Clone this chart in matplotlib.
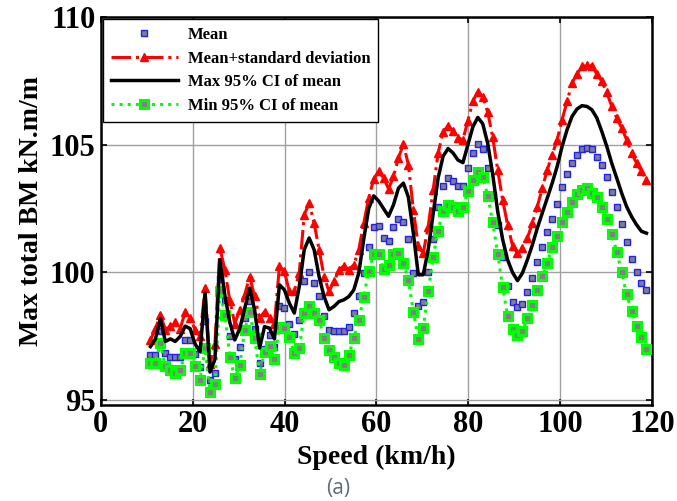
import numpy as np
import matplotlib
matplotlib.use('Agg')
import matplotlib.pyplot as plt

# speed grid: 3 .. 33 m/s in 0.3 m/s steps, shown in km/h
speed_ms = np.arange(30, 331, 3) / 10.0
speed = speed_ms * 3.6

mean_bm = [96.78, 96.78, 97.7, 96.85, 96.7, 96.7, 96.7, 97.35, 97.36, 96.8,
           96.3, 98.1, 95.8, 96.06, 99.75, 98.93, 97.53, 96.6, 97.08, 98.2,
           98.88, 97.78, 96.45, 97.0, 97.55, 97.1, 98.7, 98.6, 98.0, 97.6,
           98.15, 99.65, 100.0, 99.58, 99.06, 98.28, 97.76, 97.69, 97.69, 97.69,
           97.88, 98.4, 99.06, 99.98, 101.0, 101.77, 101.83, 101.35, 101.22, 101.78,
           102.1, 101.96, 101.3, 99.98, 98.67, 98.86, 100.0, 101.3, 102.58, 103.38,
           103.7, 103.6, 103.4, 103.37, 104.1, 104.69, 105.02, 104.83, 104.1, 103.05,
           101.87, 100.6, 99.47, 98.84, 98.66, 98.77, 99.23, 99.8, 100.4, 101.0,
           101.57, 102.09, 102.68, 103.33, 103.85, 104.28, 104.6, 104.83, 104.87, 104.83,
           104.54, 104.22, 103.72, 103.17, 102.58, 101.9, 101.18, 100.52, 100.0, 99.6,
           99.3]

mean_plus_sd = [97.36, 97.8, 98.34, 97.76, 97.9, 98.08, 97.8, 98.47, 98.21, 97.76,
                97.5, 99.4, 96.4, 97.2, 100.96, 100.1, 98.9, 98.0, 98.54, 99.13,
                99.84, 99.06, 98.2, 98.47, 98.2, 98.0, 100.24, 100.04, 99.26, 99.26,
                99.98, 102.26, 102.72, 101.93, 100.89, 99.84, 99.26, 99.65, 100.1, 100.26,
                100.1, 100.3, 100.89, 101.93, 102.91, 103.66, 103.96, 103.7, 103.27, 103.76,
                104.48, 105.03, 104.22, 102.46, 101.02, 100.76, 101.8, 103.24, 104.68, 105.49,
                105.75, 105.52, 105.26, 105.2, 105.94, 106.7, 107.08, 106.87, 106.27, 105.3,
                104.02, 102.85, 101.87, 101.05, 100.76, 100.96, 101.35, 101.93, 102.58, 103.3,
                104.02, 104.61, 105.2, 105.98, 106.7, 107.42, 107.78, 108.07, 108.14, 108.07,
                107.78, 107.48, 107.05, 106.5, 106.05, 105.66, 105.2, 104.68, 104.28, 103.96,
                103.63]

ci_max = [97.1, 97.4, 98.2, 97.3, 97.4, 97.3, 97.5, 97.9, 97.8, 97.2,
          96.9, 99.2, 96.1, 96.6, 100.5, 99.1, 98.05, 97.36, 97.8, 98.6,
          99.39, 98.54, 97.04, 97.88, 97.82, 97.4, 99.52, 99.32, 98.8, 98.41,
          99.45, 100.89, 101.35, 100.89, 99.84, 99.06, 98.54, 98.67, 98.86, 98.93,
          99.06, 99.32, 99.98, 101.3, 102.5, 103.0, 102.8, 102.5, 102.2, 102.65,
          103.3, 103.5, 102.95, 101.54, 99.91, 99.91, 100.9, 102.3, 103.7, 104.55,
          104.85, 104.68, 104.4, 104.3, 105.0, 105.7, 106.07, 105.82, 105.05, 103.85,
          102.4, 101.3, 100.5, 100.0, 99.68, 99.98, 100.5, 101.08, 101.74, 102.33,
          102.91, 103.5, 104.15, 104.94, 105.59, 106.11, 106.4, 106.53, 106.5, 106.37,
          106.05, 105.52, 104.94, 104.28, 103.7, 103.11, 102.58, 102.19, 101.87, 101.61,
          101.54]

ci_min = [96.45, 96.45, 97.23, 96.32, 96.19, 96.06, 96.19, 96.84, 96.84, 96.32,
          95.8, 97.04, 95.34, 95.62, 99.26, 98.34, 96.71, 95.86, 96.38, 97.76,
          98.44, 97.43, 96.03, 96.9, 97.14, 96.62, 97.87, 97.82, 97.49, 96.84,
          97.04, 98.41, 98.67, 98.41, 98.15, 97.43, 96.97, 96.71, 96.45, 96.38,
          96.78, 97.43, 98.15, 99.03, 100.07, 100.74, 100.72, 100.12, 100.3, 100.72,
          100.75, 100.38, 99.7, 98.47, 97.4, 97.82, 99.26, 100.6, 101.64, 102.42,
          102.65, 102.55, 102.42, 102.55, 103.19, 103.63, 103.92, 103.74, 103.01, 101.96,
          100.74, 99.43, 98.31, 97.79, 97.56, 97.72, 98.21, 98.71, 99.3, 99.87,
          100.39, 100.98, 101.44, 101.96, 102.35, 102.74, 103.07, 103.24, 103.3, 103.13,
          102.94, 102.55, 102.09, 101.5, 100.82, 100.0, 99.15, 98.51, 97.92, 97.47,
          97.01]

plt.rcParams['font.family'] = ['Liberation Serif', 'DejaVu Serif']
plt.rcParams['font.weight'] = 'bold'

fig = plt.figure(figsize=(6.77, 5.01), dpi=100)
ax = fig.add_axes([0.149, 0.192, 0.814, 0.774])

ax.plot(speed, mean_bm, linestyle='none', marker='s', markersize=5,
        markerfacecolor='#808080', markeredgecolor='#2020ff', markeredgewidth=1.0,
        label='Mean', zorder=3)
ax.plot(speed, mean_plus_sd, color='red', linestyle='-.', linewidth=2.2,
        marker='^', markersize=5.5, markerfacecolor='red', markeredgecolor='red',
        label='Mean+standard deviation', zorder=4)
ax.plot(speed, ci_max, color='black', linestyle='-', linewidth=2.5,
        label='Max 95% CI of mean', zorder=5)
ax.plot(speed, ci_min, color='#00ff00', linestyle=':', linewidth=2.2,
        marker='s', markersize=5.5, markerfacecolor='#808080', markeredgecolor='#00ff00',
        markeredgewidth=2.2, label='Min 95% CI of mean', zorder=4)

ax.set_xlim(0, 120)
ax.set_ylim(94.82, 110)
ax.set_xticks([0, 20, 40, 60, 80, 100, 120])
ax.set_yticks([95, 100, 105, 110])
ax.grid(True, color='#a0a0a0', linewidth=1.0, linestyle='-')
ax.set_axisbelow(True)
ax.tick_params(direction='in', length=4, width=1.2, top=True, right=True, labelsize=22, pad=4)
for lab in ax.get_xticklabels() + ax.get_yticklabels():
    lab.set_fontweight('bold')
for s in ax.spines.values():
    s.set_linewidth(1.8)

ax.set_xlabel('Speed (km/h)', fontsize=20, fontweight='bold', labelpad=4)
ax.set_ylabel('Max total BM kN.m/m', fontsize=20, fontweight='bold', labelpad=4)

leg = ax.legend(loc='upper left', fontsize=12, handlelength=4.0, handletextpad=0.6,
                borderaxespad=0.1, frameon=True, fancybox=False, edgecolor='black',
                framealpha=1, labelspacing=0.45, borderpad=0.5)
leg.get_frame().set_linewidth(1.0)

fig.text(0.5, 0.025, '(a)', ha='center', va='center', fontsize=15,
         color='#5f6b78', family='Open Sans', fontweight='normal')

fig.savefig('out.png', dpi=100)
